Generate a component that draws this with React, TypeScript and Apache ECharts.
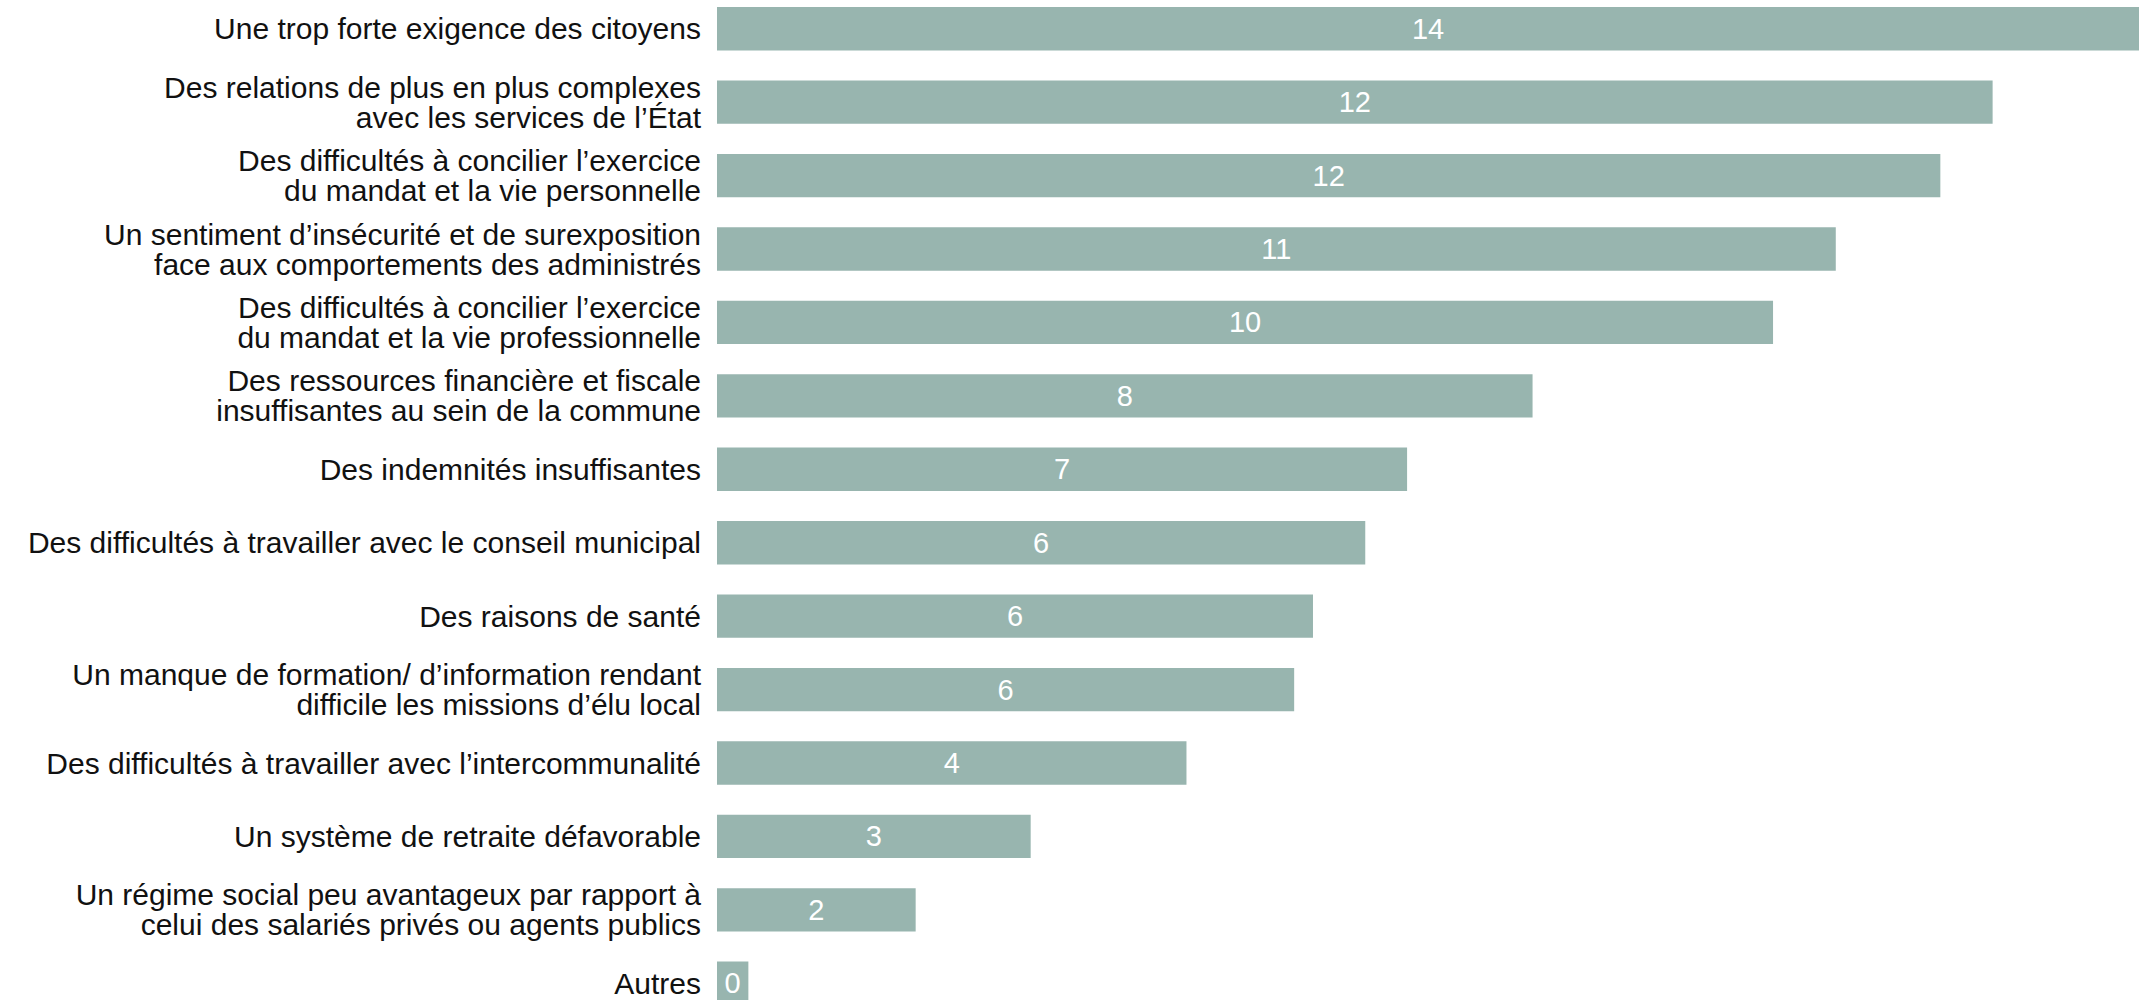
import React, { useEffect, useRef } from "react";
import * as echarts from "echarts";

const categories: string[] = [
  "Une trop forte exigence des citoyens",
  "Des relations de plus en plus complexes\navec les services de l’État",
  "Des difficultés à concilier l’exercice\ndu mandat et la vie personnelle",
  "Un sentiment d’insécurité et de surexposition\nface aux comportements des administrés",
  "Des difficultés à concilier l’exercice\ndu mandat et la vie professionnelle",
  "Des ressources financière et fiscale\ninsuffisantes au sein de la commune",
  "Des indemnités insuffisantes",
  "Des difficultés à travailler avec le conseil municipal",
  "Des raisons de santé",
  "Un manque de formation/ d’information rendant\ndifficile les missions d’élu local",
  "Des difficultés à travailler avec l’intercommunalité",
  "Un système de retraite défavorable",
  "Un régime social peu avantageux par rapport à\ncelui des salariés privés ou agents publics",
  "Autres",
];

const values: number[] = [13.6, 12.2, 11.7, 10.7, 10.1, 7.8, 6.6, 6.2, 5.7, 5.52, 4.49, 3.0, 1.9, 0.3];

const BAR_COLOR = "#98b5af";
const FONT = "'Liberation Sans', Arial, sans-serif";

export default function App() {
  const ref = useRef<HTMLDivElement>(null);
  useEffect(() => {
    if (!ref.current) return;
    const chart = echarts.init(ref.current, undefined, { renderer: "svg" });
    chart.setOption({
      animation: false,
      grid: { left: 717, right: 0, top: 0, bottom: 0, containLabel: false },
      xAxis: {
        type: "value",
        min: 0,
        max: "dataMax",
        show: false,
      },
      yAxis: {
        type: "category",
        data: categories,
        inverse: true,
        axisLine: { show: false },
        axisTick: { show: false },
        splitLine: { show: false },
        axisLabel: {
          color: "#111",
          fontFamily: FONT,
          fontSize: 30,
          lineHeight: 30,
          margin: 16,
          align: "right",
        },
      },
      series: [
        {
          type: "bar",
          data: values,
          barCategoryGap: "41%",
          itemStyle: { color: BAR_COLOR },
          label: {
            show: true,
            position: "inside",
            color: "#fff",
            fontFamily: FONT,
            fontSize: 29,
            formatter: (p: any) => String(Math.round(p.value)),
          },
        },
      ],
    });
    return () => chart.dispose();
  }, []);
  return (
    <div
      ref={ref}
      style={{ position: "fixed", left: 0, top: -8, width: 2139, height: 1028, background: "#fff" }}
    />
  );
}
